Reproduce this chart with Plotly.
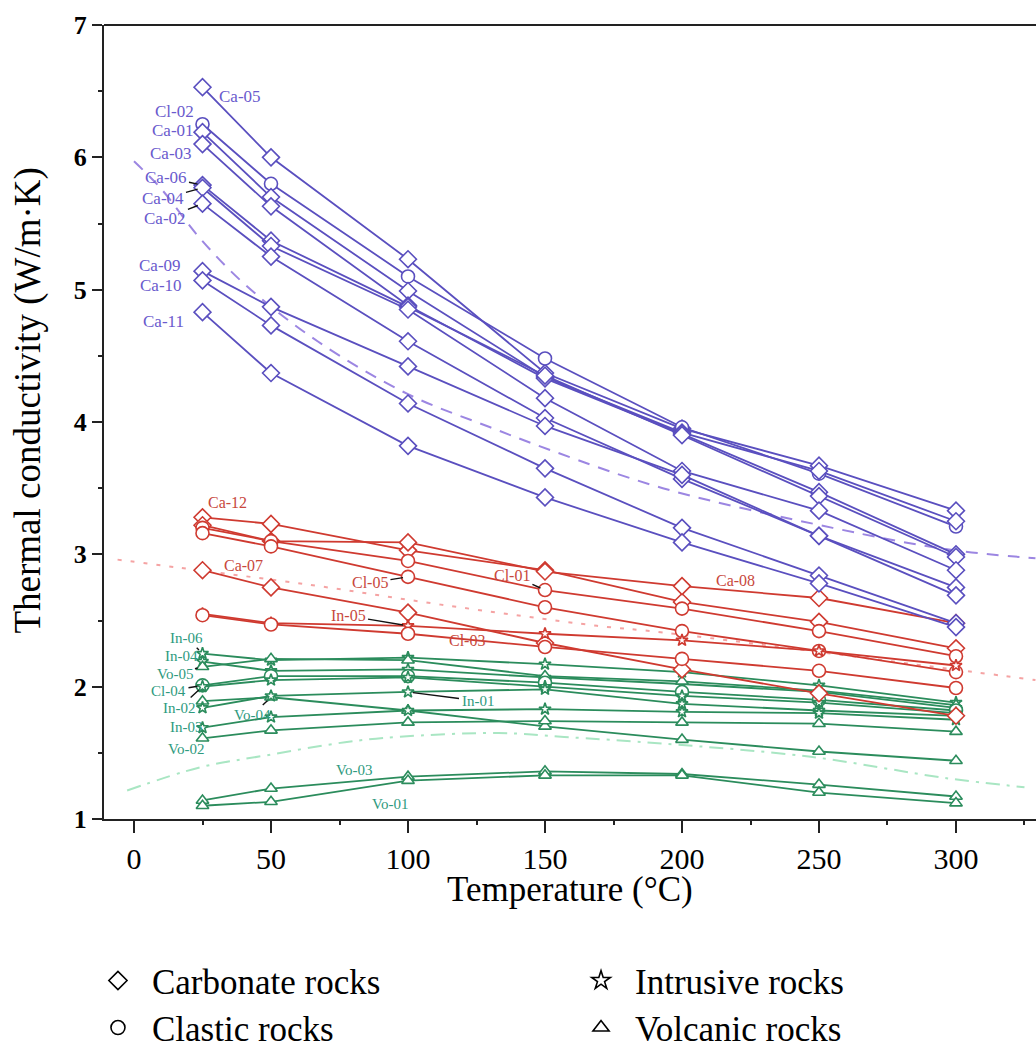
import plotly.graph_objects as go

# ---------------- data ----------------
temps = [25, 50, 100, 150, 200, 250, 300]

purple_samples = {
    "Ca-05": [6.53, 6.00, 5.23, 4.37, 3.95, 3.67, 3.33],
    "Cl-02": [6.25, 5.80, 5.10, 4.48, 3.96, 3.61, 3.21],
    "Ca-01": [6.19, 5.70, 4.99, 4.34, 3.92, 3.63, 3.25],
    "Ca-03": [6.10, 5.63, 4.88, 4.33, 3.91, 3.47, 3.00],
    "Ca-06": [5.79, 5.37, 4.87, 4.35, 3.90, 3.44, 2.98],
    "Ca-04": [5.77, 5.33, 4.85, 4.18, 3.63, 3.33, 2.88],
    "Ca-02": [5.65, 5.25, 4.61, 4.03, 3.57, 3.14, 2.75],
    "Ca-09": [5.14, 4.87, 4.42, 3.97, 3.60, 3.14, 2.69],
    "Ca-10": [5.07, 4.73, 4.14, 3.65, 3.20, 2.84, 2.48],
    "Ca-11": [4.83, 4.37, 3.82, 3.43, 3.09, 2.78, 2.45],
}

red_samples = {
    "Ca-12": [3.28, 3.23, 3.03, 2.88, 2.64, 2.49, 2.29],
    "Ca-08": [3.22, 3.10, 3.09, 2.87, 2.76, 2.67, 2.48],
    "Cl-01": [3.20, 3.10, 2.95, 2.73, 2.59, 2.42, 2.23],
    "Cl-05": [3.16, 3.06, 2.83, 2.60, 2.42, 2.27, 2.11],
    "Ca-07": [2.88, 2.75, 2.56, 2.33, 2.13, 1.95, 1.78],
    "In-05": [2.55, 2.48, 2.46, 2.40, 2.35, 2.27, 2.16],
    "Cl-03": [2.54, 2.47, 2.40, 2.30, 2.21, 2.12, 1.99],
}

green_samples = {
    "In-06": [2.25, 2.20, 2.22, 2.17, 2.11, 2.01, 1.88],
    "In-04": [2.19, 2.12, 2.13, 2.07, 2.02, 1.96, 1.84],
    "Vo-05": [2.15, 2.21, 2.20, 2.08, 2.04, 1.97, 1.86],
    "Cl-04": [2.01, 2.08, 2.08, 2.03, 1.96, 1.90, 1.82],
    "In-02": [2.00, 2.05, 2.07, 2.00, 1.93, 1.88, 1.80],
    "Vo-04": [1.89, 1.92, 1.82, 1.70, 1.60, 1.51, 1.44],
    "In-01": [1.84, 1.93, 1.96, 1.98, 1.87, 1.82, 1.78],
    "In-03": [1.69, 1.77, 1.82, 1.83, 1.81, 1.80, 1.75],
    "Vo-02": [1.61, 1.67, 1.73, 1.74, 1.73, 1.72, 1.66],
    "Vo-03": [1.14, 1.23, 1.32, 1.36, 1.34, 1.26, 1.17],
    "Vo-01": [1.10, 1.13, 1.29, 1.33, 1.33, 1.20, 1.12],
}

# trend curves
purple_trend_t = [0, 10, 24, 41, 67, 100, 130, 153, 193, 255, 296, 329]
purple_trend_v = [5.97, 5.76, 5.39, 5.03, 4.61, 4.21, 3.96, 3.78, 3.50, 3.20, 3.04, 2.97]
red_trend_t = [-6, 16, 64, 112, 169, 193, 303, 329]
red_trend_v = [2.96, 2.90, 2.77, 2.62, 2.46, 2.41, 2.12, 2.05]
green_trend_t = [-2.5, 24, 48, 77, 96, 133, 157, 193, 247, 296, 325]
green_trend_v = [1.215, 1.39, 1.48, 1.58, 1.62, 1.65, 1.62, 1.57, 1.47, 1.31, 1.24]

legend_names = ["Carbonate rocks", "Intrusive rocks", "Clastic rocks", "Volcanic rocks"]
x_title = "Temperature (°C)"
y_title = "Thermal conductivity (W/m·K)"

# ---------------- styles ----------------
FONT = "Liberation Serif, Times New Roman, DejaVu Serif, serif"
groups = [
    (green_samples, "#2b8c5c", "#2e9a7e", 15),
    (red_samples, "#cf3a30", "#c8483c", 16),
    (purple_samples, "#5a4fbf", "#6a5acd", 17),
]
symbol_of = {"Ca": "diamond", "Cl": "circle", "In": "star", "Vo": "triangle-up"}
size_of = {"Ca": 13, "Cl": 13, "In": 9, "Vo": 11}

fig = go.Figure()

# trend curves
fig.add_trace(go.Scatter(x=purple_trend_t, y=purple_trend_v, mode="lines", line_shape="spline",
                         line=dict(color="#9c86e2", width=2, dash="12px,9px"), showlegend=False,
                         hoverinfo="skip"))
fig.add_trace(go.Scatter(x=red_trend_t, y=red_trend_v, mode="lines", line_shape="spline",
                         line=dict(color="#f5a3a3", width=2, dash="4px,9px"), showlegend=False,
                         hoverinfo="skip"))
fig.add_trace(go.Scatter(x=green_trend_t, y=green_trend_v, mode="lines", line_shape="spline",
                         line=dict(color="#a9e6c3", width=2, dash="14px,7px,3px,7px"), showlegend=False,
                         hoverinfo="skip"))

label_color_of = {}
label_size_of = {}
values_of = {}
for samples, col, lcol, lsize in groups:
    for name, vals in samples.items():
        pre = name[:2]
        label_color_of[name] = lcol
        label_size_of[name] = lsize
        values_of[name] = vals
        fig.add_trace(go.Scatter(
            x=temps, y=vals, mode="lines+markers", name=name, showlegend=False,
            line=dict(color=col, width=1.8),
            marker=dict(symbol=symbol_of[pre], size=size_of[pre], color="white",
                        line=dict(color=col, width=1.6)),
        ))

# sample labels: (name, anchor temperature, dx px, dy px, leader line)
labels = [
    ("Ca-05", 25, 37, 9, False), ("Cl-02", 25, -28, -13, False), ("Ca-01", 25, -30, -2, False),
    ("Ca-03", 25, -32, 9, False), ("Ca-06", 25, -37, -8, True), ("Ca-04", 25, -40, 11, True),
    ("Ca-02", 25, -38, 15, True), ("Ca-09", 25, -43, -6, False), ("Ca-10", 25, -42, 5, False),
    ("Ca-11", 25, -39, 9, False),
    ("Ca-12", 25, 25, -15, False), ("Ca-07", 25, 41, -5, False), ("Cl-05", 100, -38, 6, True),
    ("Cl-01", 150, -33, -15, True), ("In-05", 100, -60, -10, True), ("Cl-03", 100, 59, 7, False),
    ("Ca-08", 200, 53, -6, False),
    ("In-06", 25, -16, -16, True), ("In-04", 25, -21, -6, True), ("Vo-05", 25, -28, 7, True),
    ("Cl-04", 25, -34, 6, True), ("In-02", 25, -23, 21, True), ("Vo-04", 50, -19, 18, True),
    ("In-03", 25, -16, -1, True), ("Vo-02", 25, -17, 11, True), ("In-01", 100, 70, 9, True),
    ("Vo-03", 100, -54, -7, False), ("Vo-01", 100, -18, 23, False),
]
annotations = []
for name, t, dx, dy, leader in labels:
    v = values_of[name][temps.index(t)]
    a = dict(x=t, y=v, xref="x", yref="y", text=name,
             font=dict(family=FONT, size=label_size_of[name], color=label_color_of[name]))
    if leader:
        a.update(showarrow=True, ax=dx, ay=dy, arrowhead=0, arrowwidth=1.4,
                 arrowcolor="#111111", standoff=5, startstandoff=1)
    else:
        a.update(showarrow=False, xshift=dx, yshift=-dy)
    annotations.append(a)

# axis titles
annotations.append(dict(x=0.5, y=-0.0885, xref="paper", yref="paper", text=x_title, showarrow=False,
                        xanchor="center", yanchor="middle",
                        font=dict(family=FONT, size=35, color="black")))
annotations.append(dict(x=-0.0815, y=0.527, xref="paper", yref="paper", text=y_title, showarrow=False,
                        xanchor="center", yanchor="middle", textangle=-90,
                        font=dict(family=FONT, size=37, color="black")))

# legend entries, one legend each for the 2x2 layout
legend_symbols = ["diamond-open", "star-open", "circle-open", "triangle-up-open"]
legend_ids = ["legend", "legend2", "legend3", "legend4"]
legend_pos = [(-0.0215, -0.2037), (0.4968, -0.2037), (-0.0215, -0.263), (0.4968, -0.263)]
for nm, sym, lid in zip(legend_names, legend_symbols, legend_ids):
    fig.add_trace(go.Scatter(x=[None], y=[None], mode="markers", name=nm, legend=lid,
                             marker=dict(symbol=sym, size=14, color="black",
                                         line=dict(color="black", width=1.6))))

leg_common = dict(xanchor="left", yanchor="middle", bgcolor="rgba(0,0,0,0)",
                  font=dict(family=FONT, size=35, color="black"), itemwidth=58)
layout_legends = {}
for lid, (lx, ly) in zip(legend_ids, legend_pos):
    layout_legends[lid] = dict(x=lx, y=ly, **leg_common)

fig.update_layout(
    width=1036, height=1050,
    margin=dict(l=104, r=0, t=25, b=231, autoexpand=False),
    paper_bgcolor="white", plot_bgcolor="white",
    font=dict(family=FONT, color="black"),
    annotations=annotations,
    shapes=[dict(type="line", xref="paper", yref="paper", x0=0, x1=1, y0=1, y1=1,
                 line=dict(color="#222222", width=2))],
    **layout_legends,
)
fig.update_xaxes(
    range=[-10.95, 329.2], tickvals=[0, 50, 100, 150, 200, 250, 300],
    ticks="outside", ticklen=12, tickwidth=2, tickcolor="#222222",
    showline=True, linecolor="#222222", linewidth=2, showgrid=False, zeroline=False,
    minor=dict(dtick=25, ticks="outside", ticklen=4, tickwidth=2, tickcolor="#222222"),
    tickfont=dict(family=FONT, size=30, color="black"),
)
fig.update_yaxes(
    range=[1, 7], dtick=1,
    ticks="outside", ticklen=10, tickwidth=2, tickcolor="#222222",
    showline=True, linecolor="#222222", linewidth=2, showgrid=False, zeroline=False,
    minor=dict(dtick=0.5, ticks="outside", ticklen=4, tickwidth=2, tickcolor="#222222"),
    tickfont=dict(family=FONT, size=26, color="black", weight="bold"),
)

fig.write_html("out.html")
